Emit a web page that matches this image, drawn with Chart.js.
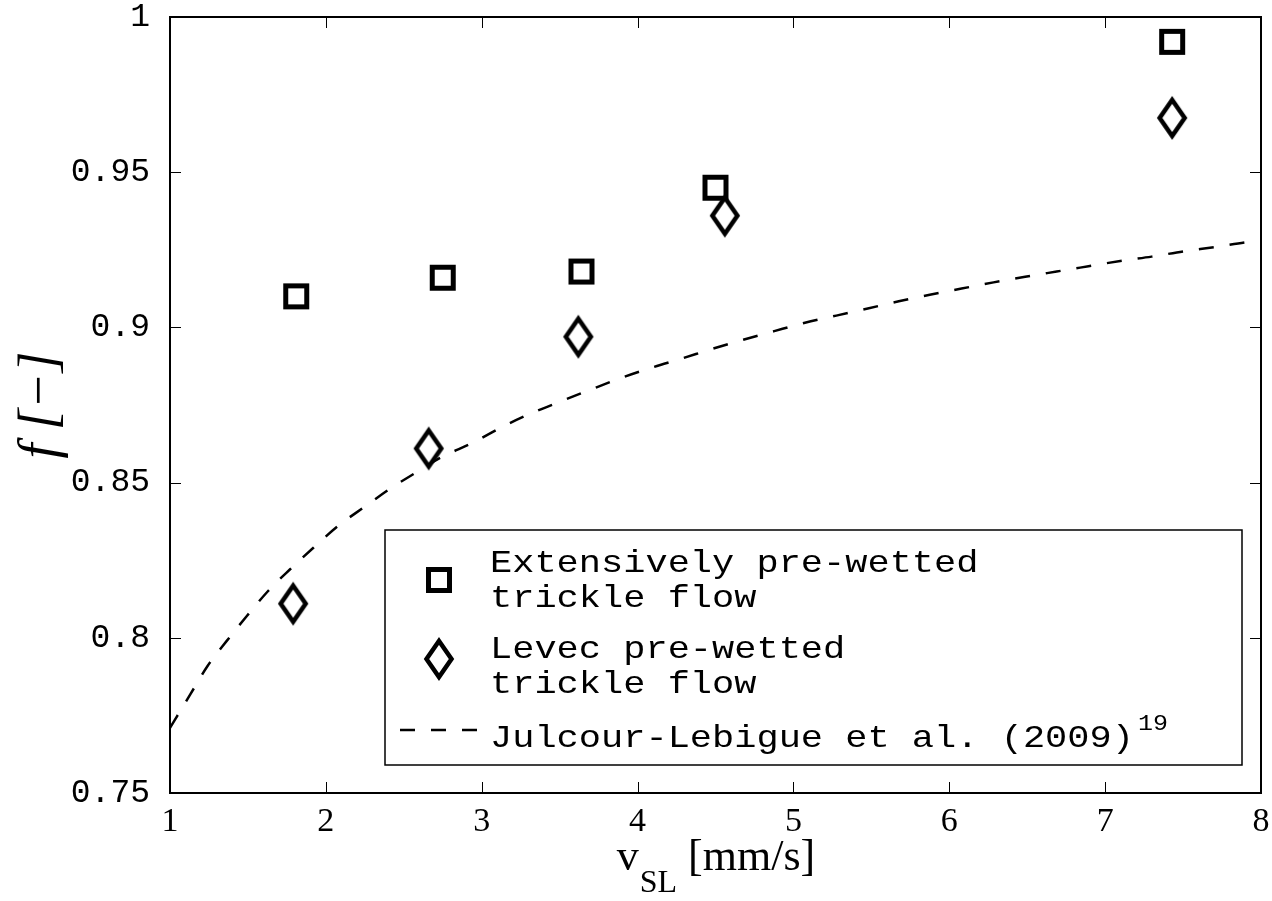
<!DOCTYPE html>
<html><head><meta charset="utf-8">
<script src="https://cdn.jsdelivr.net/npm/chart.js@4.4.1/dist/chart.umd.min.js"></script>
<style>html,body{margin:0;padding:0;background:#fff;}#wrap{width:1272px;height:901px;position:relative;}</style>
</head><body><div id="wrap"><canvas id="c" width="1272" height="901"></canvas></div>
<script>
// ---- data ----
const extX = [1.81, 2.75, 3.64, 4.50, 7.43];
const extY = [0.910, 0.916, 0.918, 0.945, 0.992];
const levX = [1.79, 2.66, 3.62, 4.56, 7.43];
const levY = [0.811, 0.861, 0.897, 0.936, 0.9675];
const corrX = [1.0, 1.133, 1.242, 1.364, 1.493, 1.628, 1.769, 1.920, 2.077, 2.243, 2.411, 2.587, 2.735, 2.949, 3.134, 3.321, 3.509, 3.701, 3.894, 4.089, 4.286, 4.481, 4.678, 4.877, 5.074, 5.275, 5.477, 5.676, 5.875, 6.079, 6.284, 6.487, 6.689, 6.893, 7.097, 7.298, 7.504, 7.707, 7.910, 8.0];
const corrY = [0.771, 0.782, 0.791, 0.799, 0.807, 0.815, 0.822, 0.829, 0.836, 0.842, 0.848, 0.8535, 0.858, 0.863, 0.868, 0.8724, 0.8762, 0.880, 0.8837, 0.887, 0.890, 0.8931, 0.896, 0.8988, 0.9015, 0.9038, 0.9061, 0.9084, 0.9105, 0.9125, 0.9145, 0.9163, 0.918, 0.9197, 0.9214, 0.9228, 0.9245, 0.9259, 0.9275, 0.928];
const xTickLabels = ['1','2','3','4','5','6','7','8'];
const yTickLabels = ['0.75','0.8','0.85','0.9','0.95','1'];
const legendLines = [['Extensively pre-wetted','trickle flow'], ['Levec pre-wetted','trickle flow'], ['Julcour-Lebigue et al. (2009)']];
const legendSup = ['', '', '19'];
const yTitle = 'f [\u2212]';
const xTitleParts = ['v', 'SL', ' [mm/s]'];

// ---- marker images ----
function squareMarker(){
  const c=document.createElement('canvas'); c.width=34; c.height=34;
  const g=c.getContext('2d'); g.strokeStyle='#000'; g.lineWidth=5; g.lineJoin='miter';
  g.strokeRect(17-10.5,17-10.5,21,21); return c;
}
function diamondMarker(){
  const c=document.createElement('canvas'); c.width=40; c.height=54;
  const g=c.getContext('2d'); g.strokeStyle='#000'; g.lineWidth=4.5; g.lineJoin='miter'; g.miterLimit=10;
  g.beginPath(); g.moveTo(20,27-18); g.lineTo(20+12.5,27); g.lineTo(20,27+18); g.lineTo(20-12.5,27); g.closePath(); g.stroke(); return c;
}
const sq = squareMarker(), dm = diamondMarker();
const DASH = [15,16];
const RIGHT_PAD = 11;

const toPts = (xs, ys) => xs.map((x,i)=>({x, y: ys[i]}));

// ---- plugins ----
const fixRight = {
  id:'fixRight',
  afterLayout(chart){
    const a = chart.chartArea; const r = chart.width - RIGHT_PAD;
    a.right = r; a.width = r - a.left;
    const x = chart.scales.x; x.right = r; x.width = r - x.left; x.configure();
  }
};
const frameTicks = {
  id:'frameTicks',
  afterDatasetsDraw(chart){
    const {ctx, chartArea:a, scales:{x, y}} = chart;
    ctx.save(); ctx.strokeStyle='#000'; ctx.lineWidth=1; const L=11;
    ctx.beginPath();
    x.ticks.forEach(t=>{ const p=Math.round(x.getPixelForValue(t.value))+0.5;
      ctx.moveTo(p,a.bottom); ctx.lineTo(p,a.bottom-L); ctx.moveTo(p,a.top); ctx.lineTo(p,a.top+L); });
    y.ticks.forEach(t=>{ const p=Math.round(y.getPixelForValue(t.value))+0.5;
      ctx.moveTo(a.left,p); ctx.lineTo(a.left+L,p); ctx.moveTo(a.right,p); ctx.lineTo(a.right-L,p); });
    ctx.stroke();
    ctx.lineWidth=2; ctx.strokeRect(a.left, a.top, a.right-a.left, a.bottom-a.top);
    // x tick labels, placed through the x scale
    ctx.fillStyle='#000'; ctx.font='34px "Liberation Serif"'; ctx.textAlign='center'; ctx.textBaseline='alphabetic';
    x.ticks.forEach((t,i)=>{ ctx.fillText(xTickLabels[i], x.getPixelForValue(t.value), a.bottom+38); });
    ctx.restore();
  }
};
const xTitle = {
  id:'xTitle',
  afterDraw(chart){
    const {ctx, chartArea:a} = chart;
    ctx.save(); ctx.fillStyle='#000'; ctx.textBaseline='alphabetic'; ctx.textAlign='left';
    const big='44px "Liberation Serif"', small='32px "Liberation Serif"';
    ctx.font=big; const w0=ctx.measureText(xTitleParts[0]).width, w2=ctx.measureText(xTitleParts[2]).width;
    ctx.font=small; const w1=ctx.measureText(xTitleParts[1]).width;
    let x0=(a.left+a.right)/2-(w0+w1+w2)/2; const base=870;
    ctx.font=big; ctx.fillText(xTitleParts[0], x0, base);
    ctx.font=small; ctx.fillText(xTitleParts[1], x0+w0+1, base+22);
    ctx.font=big; ctx.fillText(xTitleParts[2], x0+w0+w1+1, base);
    ctx.restore();
  }
};
const boxLegend = {
  id:'boxLegend',
  afterDraw(chart){
    const {ctx} = chart; const ds = chart.data.datasets;
    ctx.save();
    ctx.fillStyle='#fff'; ctx.fillRect(385,530,857,235);
    ctx.strokeStyle='#000'; ctx.lineWidth=1.5; ctx.strokeRect(385,530,857,235);
    const rows = [{cy:580, bases:[572,607]}, {cy:659, bases:[658,693]}, {cy:730, bases:[747]}];
    ds.forEach((d,i)=>{
      const r = rows[i];
      if (d.showLine === false) {
        const img = d.pointStyle; ctx.drawImage(img, 439-img.width/2, r.cy-img.height/2);
      } else {
        ctx.save(); ctx.lineWidth=d.borderWidth; ctx.setLineDash(d.borderDash); ctx.strokeStyle=d.borderColor;
        ctx.beginPath(); ctx.moveTo(400,r.cy); ctx.lineTo(481,r.cy); ctx.stroke(); ctx.restore();
      }
      ctx.fillStyle='#000'; ctx.font='37px "Liberation Mono"'; ctx.textBaseline='alphabetic';
      let endX = 0;
      legendLines[i].forEach((t,k)=>{
        ctx.save(); ctx.translate(490, r.bases[k]); ctx.scale(1,0.85); ctx.fillText(t,0,0); ctx.restore();
        endX = 490 + ctx.measureText(t).width;
      });
      if (legendSup[i]) {
        ctx.save(); ctx.font='25px "Liberation Mono"'; ctx.translate(endX+4, 730); ctx.scale(1,0.85); ctx.fillText(legendSup[i],0,0); ctx.restore();
      }
    });
    ctx.restore();
  }
};

new Chart(document.getElementById('c'), {
  type:'scatter',
  data:{ datasets:[
    { label: legendLines[0].join(' '), data: toPts(extX, extY), showLine:false, pointStyle: sq, pointRadius:13, borderColor:'#000', backgroundColor:'#000' },
    { label: legendLines[1].join(' '), data: toPts(levX, levY), showLine:false, pointStyle: dm, pointRadius:16, borderColor:'#000', backgroundColor:'#000' },
    { label: legendLines[2].join(' '), data: toPts(corrX, corrY), showLine:true, pointRadius:0, borderColor:'#000', borderWidth:2.5, borderDash:DASH, cubicInterpolationMode:'monotone', fill:false }
  ]},
  options:{
    responsive:false, animation:false, devicePixelRatio:1,
    layout:{ padding:{ top:17, right:RIGHT_PAD, left:0, bottom:0 } },
    plugins:{ legend:{display:false}, tooltip:{enabled:false} },
    scales:{
      x:{ type:'linear', min:1, max:8,
        afterFit(s){ s.height=108; s.paddingLeft=0; s.paddingRight=0; },
        grid:{display:false}, border:{display:false},
        afterBuildTicks(s){ s.ticks = xTickLabels.map(v=>({value:+v})); },
        ticks:{ display:false } },
      y:{ type:'linear', min:0.75, max:1,
        afterFit(s){ s.width=170; s.paddingTop=0; s.paddingBottom=0; },
        grid:{display:false}, border:{display:false},
        afterBuildTicks(s){ s.ticks = yTickLabels.map(v=>({value:+v})); },
        ticks:{ color:'#000', padding:12, autoSkip:false, font:{family:'"Liberation Mono"', size:33, lineHeight:1},
          callback:(v,i)=>yTickLabels[i] },
        title:{ display:true, text:yTitle, color:'#000', padding:{top:15,bottom:0}, font:{family:'"Liberation Serif"', style:'italic', size:54, lineHeight:1} } }
    }
  },
  plugins:[fixRight, frameTicks, xTitle, boxLegend]
});
</script></body></html>
